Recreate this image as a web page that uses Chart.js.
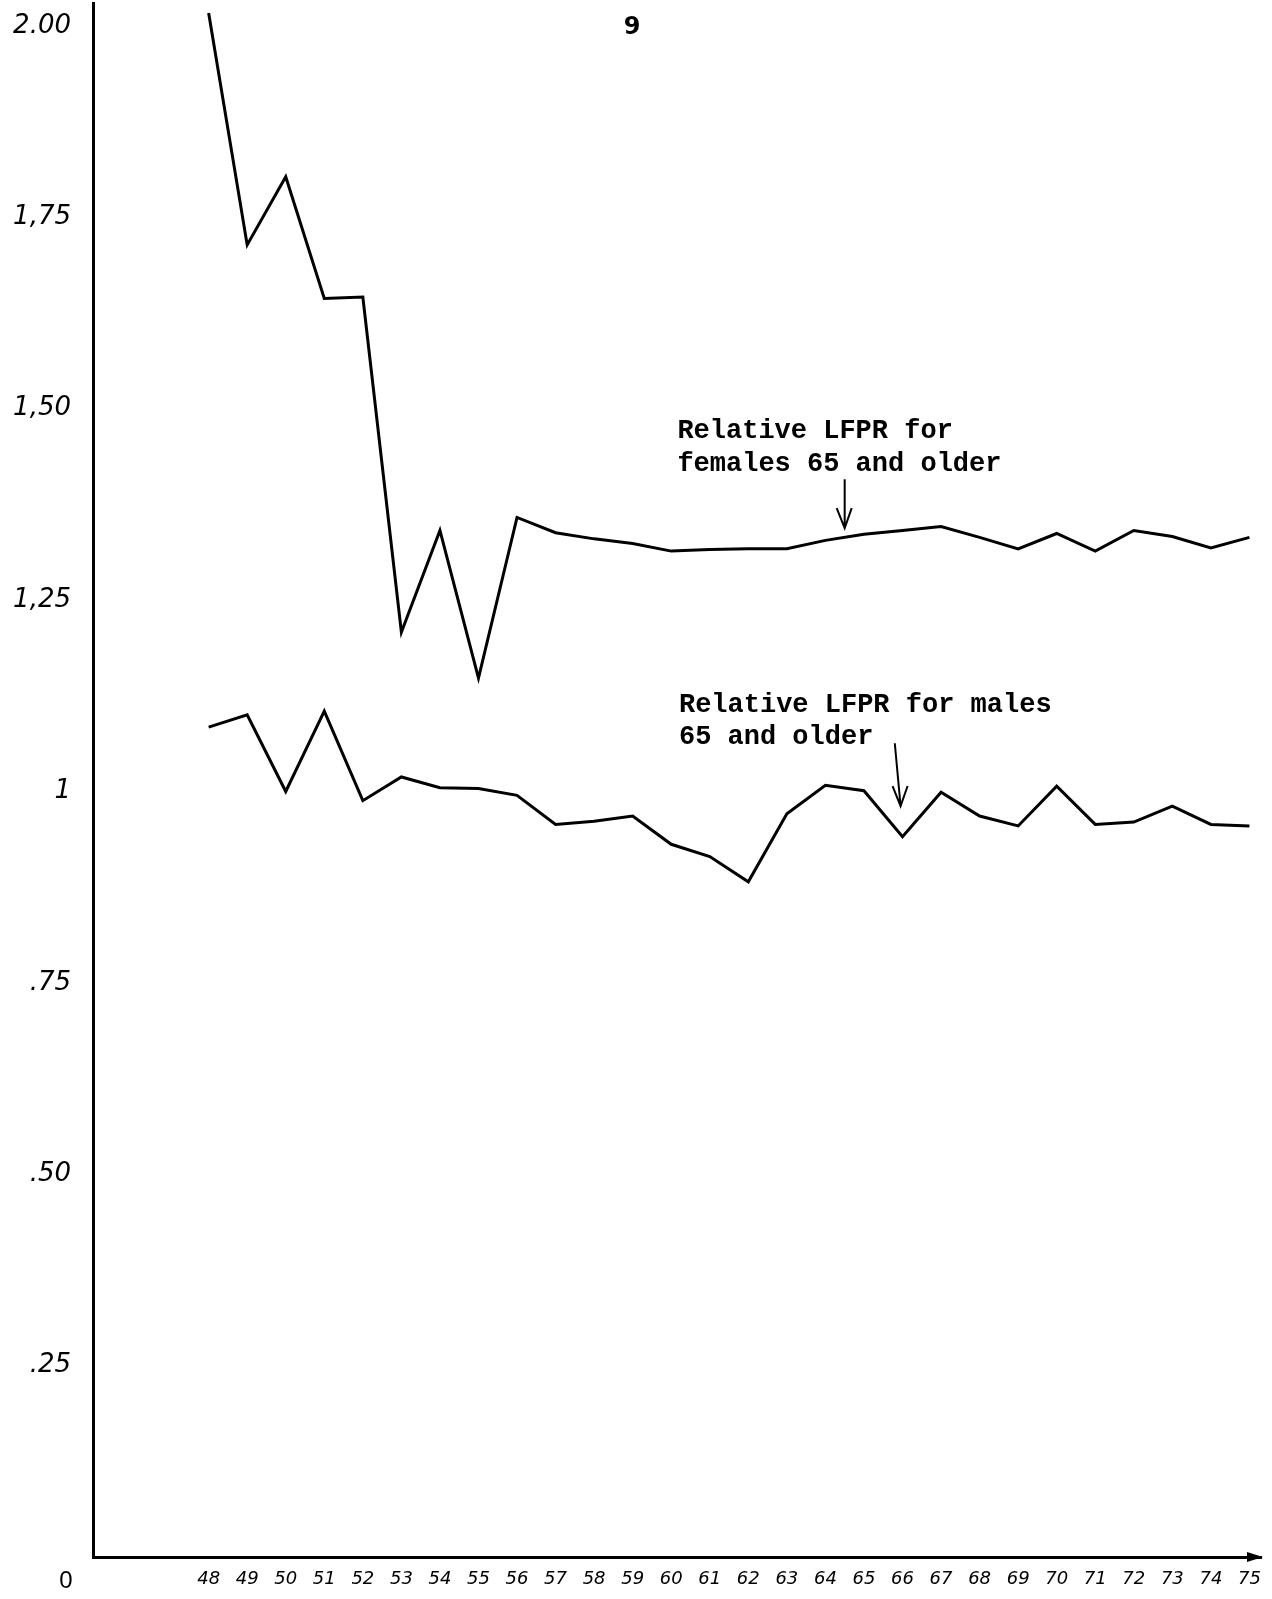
<!DOCTYPE html>
<html>
<head>
<meta charset="utf-8">
<script src="https://cdn.jsdelivr.net/npm/chart.js@4.4.1/dist/chart.umd.min.js"></script>
<style>
  html, body { margin: 0; padding: 0; background: #fff; }
  #wrap { width: 1272px; height: 1599px; }
</style>
</head>
<body>
<div id="wrap"><canvas id="lfprChart" width="1272" height="1599"></canvas></div>
<script>
// Date (ani 1948-1975)
const years = [48, 49, 50, 51, 52, 53, 54, 55, 56, 57, 58, 59, 60, 61,
               62, 63, 64, 65, 66, 67, 68, 69, 70, 71, 72, 73, 74, 75];
const femaleRatio = [2.017, 1.714, 1.803, 1.644, 1.646, 1.208, 1.341, 1.148, 1.358, 1.338,
                     1.330, 1.324, 1.314, 1.316, 1.317, 1.317, 1.328, 1.336, 1.341, 1.346,
                     1.332, 1.317, 1.337, 1.314, 1.341, 1.333, 1.318, 1.332];
const maleRatio = [1.084, 1.100, 1.000, 1.105, 0.988, 1.019, 1.005, 1.004, 0.995, 0.957,
                   0.961, 0.968, 0.931, 0.915, 0.882, 0.971, 1.008, 1.001, 0.941, 0.999,
                   0.968, 0.955, 1.007, 0.957, 0.960, 0.981, 0.957, 0.955];
const yTickValues = [0.25, 0.5, 0.75, 1, 1.25, 1.5, 1.75, 2];
const yTickLabels = ['.25', '.50', '.75', '1', '1,25', '1,50', '1,75', '2.00'];
const zeroLabel = '0';
const pageNumber = '9';
const femaleNote = ['Relative LFPR for', 'females 65 and older'];
const maleNote = ['Relative LFPR for males', '65 and older'];

// Text and arrows drawn on top
const notesPlugin = {
  id: 'notes',
  afterDraw(chart) {
    const { ctx, scales: { x, y }, chartArea } = chart;
    ctx.save();
    ctx.fillStyle = '#000';
    ctx.strokeStyle = '#000';

    ctx.font = 'bold 24px "DejaVu Sans"';
    ctx.textAlign = 'center';
    ctx.textBaseline = 'middle';
    ctx.fillText(pageNumber, 632, 28);

    ctx.font = '24px "Liberation Sans"';
    ctx.fillText(zeroLabel, 66, chartArea.bottom + 24);

    // arrow at the end of the x axis
    const ax = chartArea.right, ay = chartArea.bottom;
    ctx.beginPath();
    ctx.moveTo(ax + 2, ay);
    ctx.lineTo(ax - 14, ay - 5);
    ctx.lineTo(ax - 14, ay + 5);
    ctx.closePath();
    ctx.fill();

    ctx.font = 'bold 27px "Liberation Mono"';
    ctx.textAlign = 'left';
    const writeNote = (lines, yr, v1, v2) => {
      ctx.fillText(lines[0], x.getPixelForValue(yr), y.getPixelForValue(v1));
      ctx.fillText(lines[1], x.getPixelForValue(yr), y.getPixelForValue(v2));
    };
    writeNote(femaleNote, 60.16, 1.470, 1.427);
    writeNote(maleNote, 60.2, 1.113, 1.071);

    const arrow = (yr1, v1, yr2, v2) => {
      const x1 = x.getPixelForValue(yr1), y1 = y.getPixelForValue(v1);
      const x2 = x.getPixelForValue(yr2), y2 = y.getPixelForValue(v2);
      ctx.lineWidth = 2;
      ctx.beginPath();
      ctx.moveTo(x1, y1);
      ctx.lineTo(x2, y2);
      ctx.moveTo(x2 - 8, y2 - 20);
      ctx.lineTo(x2, y2);
      ctx.lineTo(x2 + 7, y2 - 20);
      ctx.stroke();
    };
    arrow(64.5, 1.408, 64.5, 1.344);
    arrow(65.8, 1.063, 65.95, 0.981);
    ctx.restore();
  }
};

const toPoints = (vals) => years.map((yr, i) => ({ x: yr, y: vals[i] }));

document.addEventListener('DOMContentLoaded', () => {
  const ctx = document.getElementById('lfprChart').getContext('2d');
  new Chart(ctx, {
    type: 'line',
    data: {
      datasets: [{
        label: 'Females 65+',
        data: toPoints(femaleRatio),
        borderColor: '#000',
        borderWidth: 3,
        pointRadius: 0,
        tension: 0,
        fill: false
      }, {
        label: 'Males 65+',
        data: toPoints(maleRatio),
        borderColor: '#000',
        borderWidth: 3,
        pointRadius: 0,
        tension: 0,
        fill: false
      }]
    },
    options: {
      responsive: false,
      animation: false,
      layout: { padding: { left: 0, top: 3, right: 11, bottom: 0 } },
      plugins: {
        legend: { display: false },
        tooltip: { enabled: false }
      },
      scales: {
        x: {
          type: 'linear',
          min: 45,
          max: 75.3,
          grid: { display: false, drawTicks: false },
          border: { display: true, color: '#000', width: 3 },
          afterBuildTicks: (scale) => { scale.ticks = years.map(v => ({ value: v })); },
          afterFit: (scale) => {
            scale.height = 42;
            scale.paddingLeft = 0;
            scale.paddingRight = 0;
          },
          ticks: {
            autoSkip: false,
            maxRotation: 0,
            padding: 12,
            color: '#000',
            font: { family: 'DejaVu Sans', size: 18, style: 'italic' },
            callback: (v) => String(v)
          }
        },
        y: {
          type: 'linear',
          min: 0,
          max: 2.03,
          grid: { display: false, drawTicks: false },
          border: { display: true, color: '#000', width: 3 },
          afterBuildTicks: (scale) => { scale.ticks = yTickValues.map(v => ({ value: v })); },
          afterFit: (scale) => {
            scale.width = 93;
            scale.paddingTop = 0;
            scale.paddingBottom = 0;
          },
          ticks: {
            padding: 22,
            color: '#000',
            font: { family: 'DejaVu Sans', size: 26, style: 'italic' },
            callback: (v) => yTickLabels[yTickValues.indexOf(v)]
          }
        }
      }
    },
    plugins: [notesPlugin]
  });
});
</script>
</body>
</html>
